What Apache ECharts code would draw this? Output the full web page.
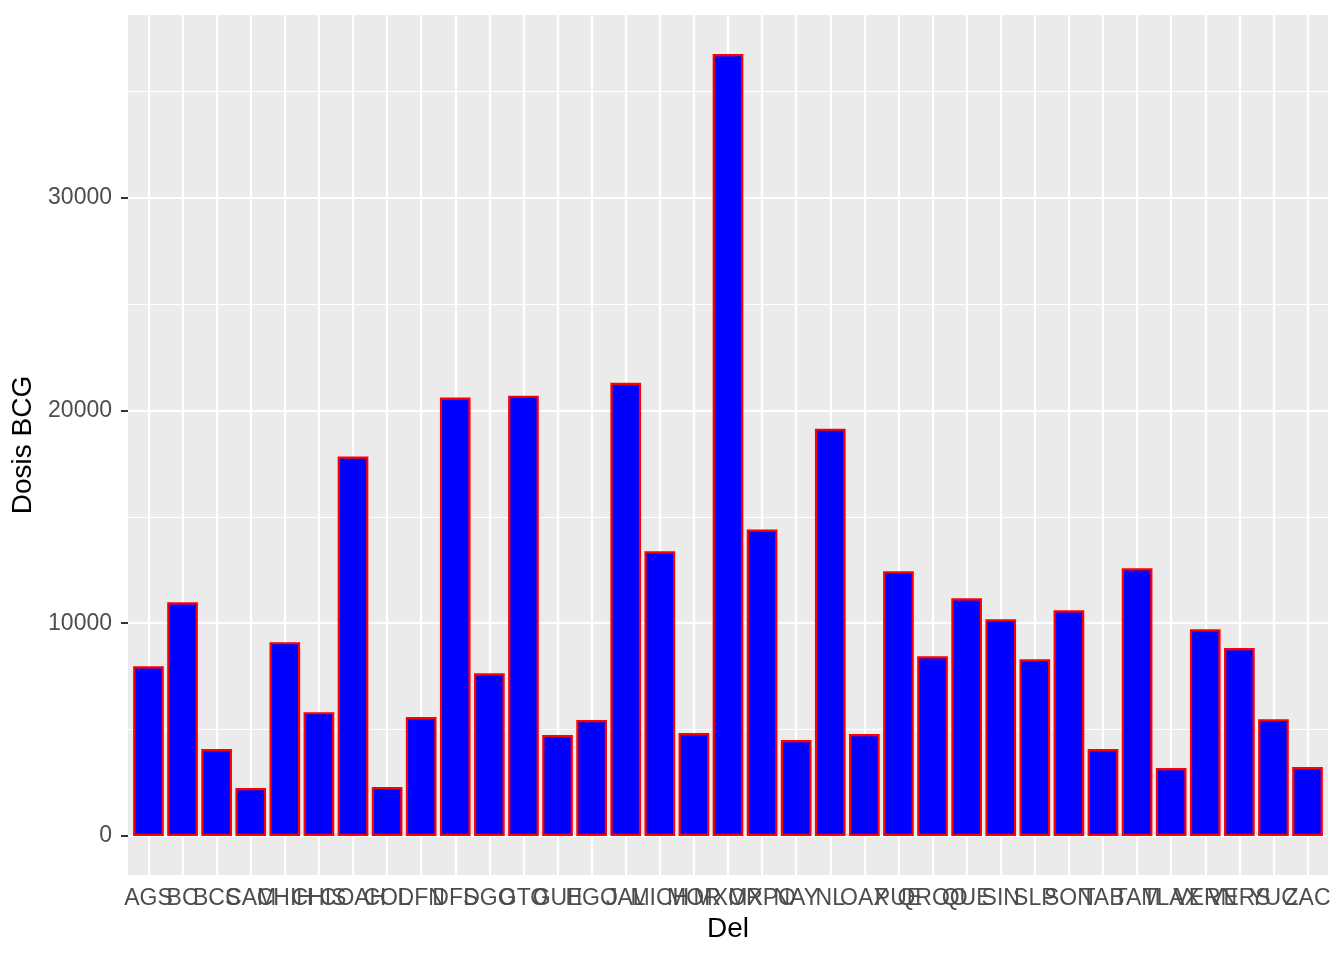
<!DOCTYPE html>
<html>
<head>
<meta charset="utf-8">
<script src="https://cdn.jsdelivr.net/npm/echarts@6/dist/echarts.min.js"></script>
<style>
html,body{margin:0;padding:0;background:#fff;}
#chart{width:1344px;height:960px;}
</style>
</head>
<body>
<div id="chart"></div>
<script>
const categories = ['AGS','BC','BCS','CAM','CHIH','CHIS','COAH','COL','DFN','DFS','DGO','GTO','GUE','HGO','JAL','MICH','MOR','MXOR','MXPO','NAY','NL','OAX','PUE','QROO','QUE','SIN','SLP','SON','TAB','TAM','TLAX','VERN','VERS','YUC','ZAC'];
const dosisBCG = [7980,10990,4090,2250,9110,5820,17840,2300,5590,20610,7650,20700,4740,5450,21310,13380,4840,36760,14410,4510,19150,4790,12440,8450,11170,10190,8310,10610,4090,12580,3190,9720,8830,5490,3240];
const yMajorTicks = [0,10000,20000,30000];
const yMinorTicks = [5000,15000,25000,35000];
const yMin = -1838, yMax = 38599;

const font = 'Liberation Sans, Arial, Helvetica, sans-serif';
// panel: 128..1328 ; discrete expansion of 0.6 units -> categories span 131.4..1324.6
const unitPx = 1200 / 35.2;
const inset = 0.1 * unitPx;

const vLines = categories.map(c => ({xAxis: c}));
const hLines = []
  .concat(yMinorTicks.map(v => ({yAxis: v, lineStyle: {width: 1.1}})))
  .concat(yMajorTicks.map(v => ({yAxis: v, lineStyle: {width: 2.2}})));

const chart = echarts.init(document.getElementById('chart'));
chart.setOption({
  animation: false,
  backgroundColor: '#ffffff',
  grid: [
    {left: 128 + inset, right: 16 + inset, top: 15, bottom: 85, show: false},
    {left: 128, right: 16, top: 15, bottom: 85, show: true, backgroundColor: '#EBEBEB', borderWidth: 0}
  ],
  xAxis: [{
    type: 'category',
    gridIndex: 0,
    data: categories,
    boundaryGap: true,
    name: 'Del',
    nameLocation: 'middle',
    nameGap: 40,
    nameTextStyle: {fontFamily: font, fontSize: 28, color: '#000'},
    axisLine: {show: false},
    axisTick: {show: true, alignWithLabel: true, length: 7, lineStyle: {color: '#333333', width: 2}},
    axisLabel: {interval: 0, fontFamily: font, fontSize: 23, color: '#4D4D4D', margin: 12},
    splitLine: {show: false}
  }, {
    type: 'value',
    gridIndex: 1,
    min: 0, max: 1,
    show: false
  }],
  yAxis: [{
    type: 'value',
    gridIndex: 0,
    min: yMin, max: yMax,
    show: false,
    splitLine: {show: false}
  }, {
    type: 'value',
    gridIndex: 1,
    min: yMin,
    max: yMax,
    name: 'Dosis BCG',
    nameLocation: 'middle',
    nameGap: 86,
    nameTextStyle: {fontFamily: font, fontSize: 28, color: '#000'},
    axisLine: {show: false},
    axisTick: {show: true, length: 7, customValues: yMajorTicks, lineStyle: {color: '#333333', width: 2}},
    axisLabel: {fontFamily: font, fontSize: 23, color: '#4D4D4D', margin: 16, customValues: yMajorTicks, formatter: v => String(v)},
    splitLine: {show: false}
  }],
  series: [{
    type: 'line',
    xAxisIndex: 1,
    yAxisIndex: 1,
    data: [],
    silent: true,
    markLine: {
      z: 1,
      silent: true,
      symbol: 'none',
      animation: false,
      label: {show: false},
      emphasis: {disabled: true},
      lineStyle: {color: '#ffffff', type: 'solid', width: 2.2},
      data: hLines
    }
  }, {
    type: 'bar',
    xAxisIndex: 0,
    yAxisIndex: 0,
    data: dosisBCG,
    barWidth: '90%',
    z: 3,
    itemStyle: {color: '#0000FF', borderColor: '#FF0000', borderWidth: 2.2},
    markLine: {
      z: 1,
      silent: true,
      symbol: 'none',
      animation: false,
      label: {show: false},
      emphasis: {disabled: true},
      lineStyle: {color: '#ffffff', type: 'solid', width: 2.2},
      data: vLines
    }
  }]
});
</script>
</body>
</html>
